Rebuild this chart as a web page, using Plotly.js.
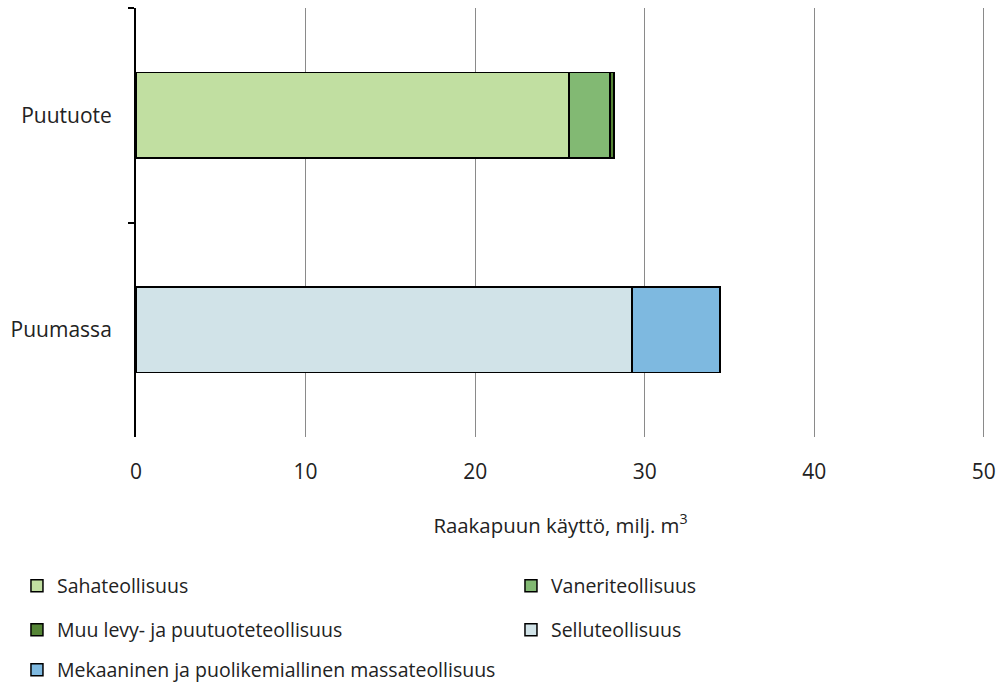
<!DOCTYPE html>
<html><head><meta charset="utf-8">
<script src="https://cdn.plot.ly/plotly-3.0.1.min.js"></script>
<style>html,body{margin:0;padding:0;background:#fff}#chart{width:998px;height:684px}</style>
</head><body><div id="chart"></div>
<script>
const categories = ["Puutuote", "Puumassa"];
const seriesNames = ["Sahateollisuus", "Vaneriteollisuus", "Muu levy- ja puutuoteteollisuus", "Selluteollisuus", "Mekaaninen ja puolikemiallinen massateollisuus"];
const sahateollisuus = [25.55, 0];
const vaneriteollisuus = [2.40, 0];
const muuLevy = [0.24, 0];
const selluteollisuus = [0, 29.26];
const mekaaninen = [0, 5.19];
const xTicks = [0, 10, 20, 30, 40, 50];
const colors = ["#C1DFA1", "#82B973", "#558536", "#D1E3E8", "#7EB9E0"];

const FONT = "'Open Sans', sans-serif";
const values = [sahateollisuus, vaneriteollisuus, muuLevy, selluteollisuus, mekaaninen];
const legendIds = ["legend", "legend2", "legend3", "legend4", "legend5"];
const traces = values.map((v, i) => ({
  type: "bar", orientation: "h", name: seriesNames[i],
  y: categories, x: v, width: 0.4,
  marker: {color: colors[i], line: {color: "#000", width: 1.5}},
  legend: legendIds[i], hoverinfo: "x+name"
}));

function leg(x, y) {
  return {orientation: "h", xref: "container", yref: "container", x: x, xanchor: "left", y: y, yanchor: "middle",
    font: {family: FONT, size: 19.5, color: "#222"}, bgcolor: "rgba(0,0,0,0)"};
}
const col1 = 0.017, col2 = 0.512;
const row1 = 1 - 586 / 684, row2 = 1 - 630 / 684, row3 = 1 - 670 / 684;

const layout = {
  width: 998, height: 684,
  margin: {l: 136, r: 13, t: 8, b: 247},
  paper_bgcolor: "#fff", plot_bgcolor: "#fff",
  barmode: "stack", showlegend: true,
  font: {family: FONT, color: "#222"},
  xaxis: {range: [0, 50.07], tickvals: xTicks, ticks: "", showline: false, zeroline: false,
    showgrid: true, gridcolor: "#8a8a8a", gridwidth: 1,
    tickfont: {family: FONT, size: 21, color: "#222"}, ticklabelstandoff: 20,
    title: {text: "Raakapuun käyttö, milj. m<sup>3</sup>", font: {family: FONT, size: 20.4, color: "#222"}, standoff: 34}},
  yaxis: {type: "category", range: [1.5, -0.5], showline: true, linecolor: "#000", linewidth: 2,
    ticks: "outside", tickson: "boundaries", ticklen: 6, tickcolor: "#000", tickwidth: 2,
    showgrid: false, zeroline: false, ticklabelstandoff: 18,
    tickfont: {family: FONT, size: 21, color: "#222"}},
  legend: leg(col1, row1),
  legend2: leg(col2, row1),
  legend3: leg(col1, row2),
  legend4: leg(col2, row2),
  legend5: leg(col1, row3)
};
Plotly.newPlot("chart", traces, layout, {displayModeBar: false, staticPlot: true});
</script></body></html>
